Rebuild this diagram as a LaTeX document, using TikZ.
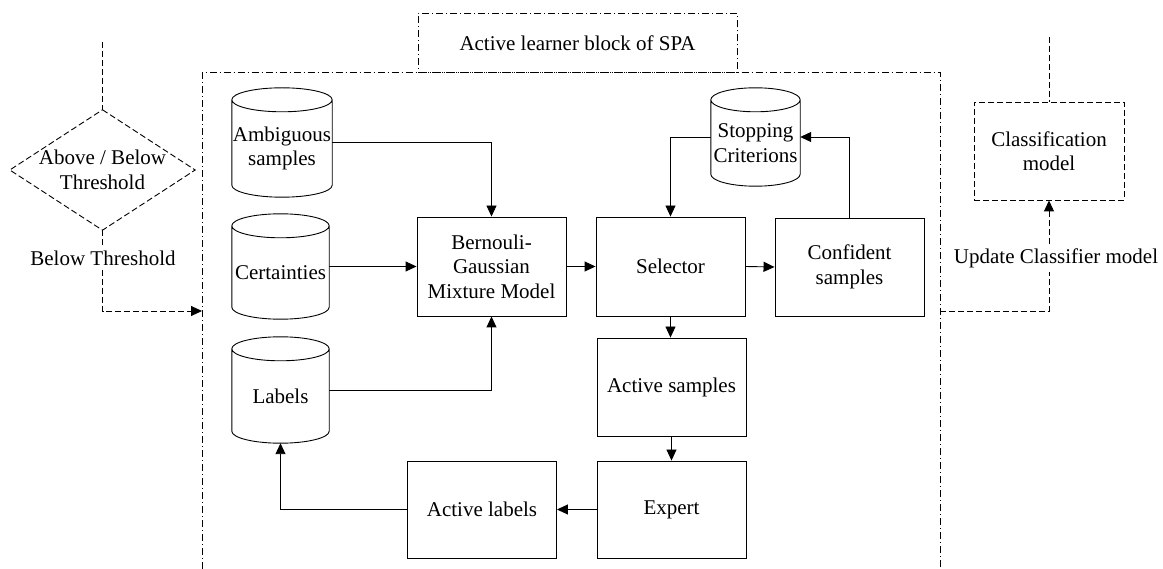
\documentclass[tikz,border=0pt]{standalone}
\usepackage{fontspec}
\setmainfont{Liberation Serif}
\newfontfamily\diagfont{Liberation Serif}
\usetikzlibrary{arrows.meta,calc}

\tikzset{
  box/.style={draw, line width=0.9pt, rectangle, align=center, inner sep=0pt},
  drum/.style={rectangle, align=center, inner sep=0pt},
  lbl/.style={align=center, inner sep=4pt},
  link/.style={line width=0.9pt},
  tip/.style={-{Triangle[length=11pt,width=10pt]}},
  dashline/.style={line width=0.9pt, dash pattern=on 6pt off 3pt},
  dotdash/.style={line width=0.9pt, dash pattern=on 7pt off 3pt on 1pt off 3pt},
}

% cylinder outline around a node that covers the body below the top ellipse
\newcommand{\drawdrum}[1]{%
  \draw[line width=0.9pt] let \p1=(#1.north west), \p2=(#1.south east) in
    (\x1,\y1) -- (\x1,\y2+12pt)
    arc[start angle=180, end angle=360, x radius={(\x2-\x1)/2}, y radius=12pt]
    -- (\x2,\y1)
    ({(\x1+\x2)/2},\y1) ellipse[x radius={(\x2-\x1)/2}, y radius=12pt];
}

\begin{document}
\begin{tikzpicture}[x=1pt,y=-1pt,font=\diagfont\fontsize{21pt}{24.5pt}\selectfont]
\useasboundingbox (0,0) rectangle (1163,569);

% ---------- left: threshold decision ----------
\node[minimum width=185pt, minimum height=120pt, align=center, inner sep=0pt]
  (dec) at (102.5,170) {Above / Below\\Threshold};
\draw[dashline] (dec.north) -- (dec.east) -- (dec.south) -- (dec.west) -- cycle;
\coordinate (topL) at (102.5,42);
\draw[dashline] (topL) -- (dec.north);
\node[lbl] (thr) at (103,258) {Below Threshold};

% ---------- active learner block ----------
\coordinate (obl) at (202,569);
\coordinate (otl) at (202,72.5);
\coordinate (otr) at (940,72.5);
\coordinate (obr) at (940,569);
\draw[dotdash] (obl) -- (otl) -- (otr) -- (obr);
\node[draw, dotdash, minimum width=319pt, minimum height=59pt, inner sep=0pt]
  (blk) at (577.5,43) {Active learner block of SPA};
\coordinate (inL) at (202,311);
\coordinate (outR) at (940,311);

% data stores
\node[drum, minimum width=100pt, minimum height=97pt] (amb) at (282,148.5) {Ambiguous\\samples};
\node[drum, minimum width=97pt, minimum height=93pt] (cert) at (280.5,272.5) {Certainties};
\node[drum, minimum width=97pt, minimum height=94pt] (lab) at (280.5,396) {Labels};
\node[drum, minimum width=89pt, minimum height=86pt] (stop) at (755.5,143) {Stopping\\Criterions};
\drawdrum{amb}
\drawdrum{cert}
\drawdrum{lab}
\drawdrum{stop}

% process blocks
\node[box, minimum width=149pt, minimum height=99pt] (bgmm) at (491.5,266.5) {Bernouli-\\Gaussian\\Mixture Model};
\node[box, minimum width=149pt, minimum height=99pt] (sel) at (670.5,266.5) {Selector};
\node[box, minimum width=149pt, minimum height=98pt] (conf) at (849.5,267) {Confident\\samples};
\node[box, minimum width=149pt, minimum height=98pt] (acts) at (671.5,387) {Active samples};
\node[box, minimum width=149pt, minimum height=97pt] (exp) at (671.5,509.5) {Expert};
\node[box, minimum width=149pt, minimum height=97pt] (actl) at (482,509.5) {Active labels};

% ---------- right: classifier ----------
\node[box, dashline, minimum width=150pt, minimum height=98pt] (cls) at (1049,151) {Classification\\model};
\coordinate (topR) at (1049,37);
\draw[dashline] (topR) -- (cls.north);
\node[lbl] (upd) at (1056,258) {Update Classifier model};

% ---------- connectors ----------
\draw[link,tip] ([yshift=6pt]amb.east) -| (bgmm.north);
\draw[link,tip] ([yshift=6pt]cert.east) -- (bgmm.west);
\draw[link,tip] ([yshift=6pt]lab.east) -| (bgmm.south);
\draw[link,tip] (bgmm.east) -- (sel.west);
\draw[link,tip] (sel.east) -- (conf.west);
\draw[link,tip] (sel.south) -- (sel.south |- acts.north);
\draw[link,tip] (acts.south) -- (exp.north);
\draw[link,tip] (exp.west) -- (actl.east);
\draw[link,tip] (actl.west) -| (lab.south);
\draw[link,tip] ([yshift=6pt]stop.west) -| (sel.north);
\draw[link,tip] (conf.north) |- ([yshift=6pt]stop.east);

\draw[dashline] (dec.south) -- (thr.north -| dec.south);
\draw[dashline,tip] (thr.south -| dec.south) |- (inL);
\draw[dashline] (outR) -| (cls.south |- upd.south);
\draw[dashline,tip] (cls.south |- upd.north) -- (cls.south);
\end{tikzpicture}
\end{document}
